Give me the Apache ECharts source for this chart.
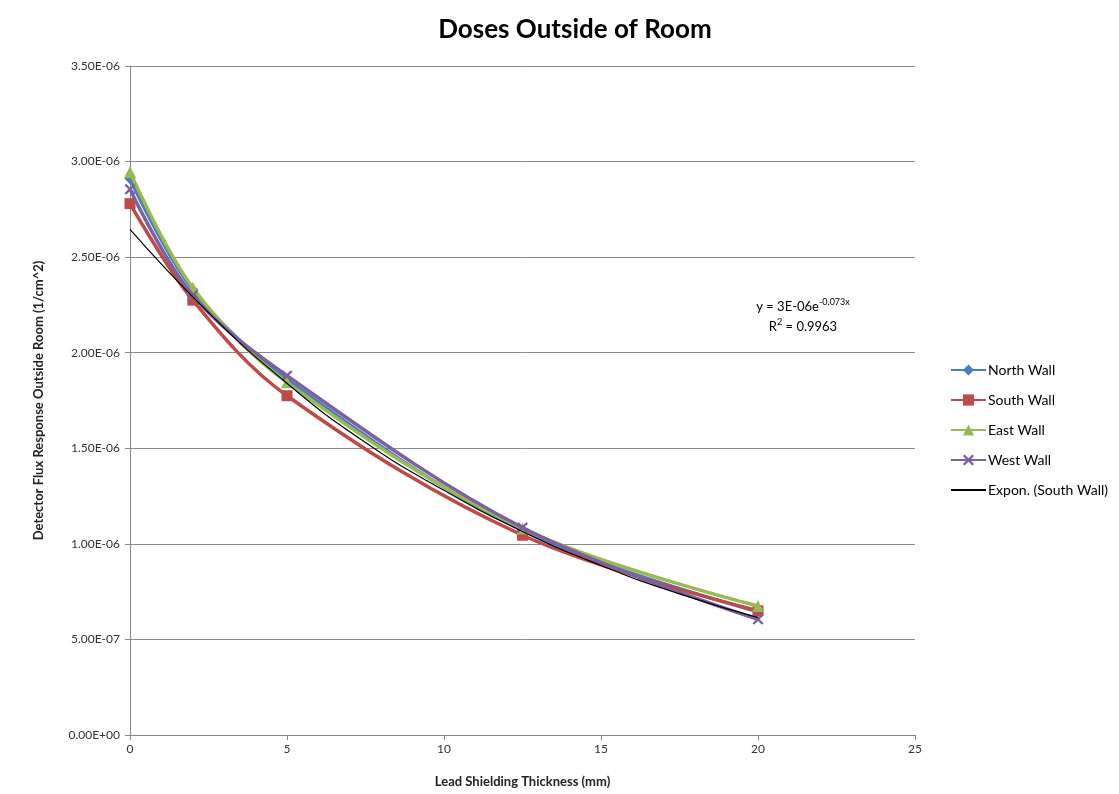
<!DOCTYPE html>
<html>
<head>
<meta charset="utf-8">
<script src="https://cdn.jsdelivr.net/npm/echarts@6/dist/echarts.min.js"></script>
<style>html,body{margin:0;padding:0;background:#fff}#c{width:1119px;height:794px}</style>
</head>
<body>
<div id="c"></div>
<script>
const thickness = [0, 2, 5, 12.5, 20];
const northWall = [2.91e-6, 2.33e-6, 1.86e-6, 1.07e-6, 0.645e-6];
const southWall = [2.78e-6, 2.275e-6, 1.775e-6, 1.045e-6, 0.65e-6];
const eastWall  = [2.945e-6, 2.34e-6, 1.845e-6, 1.08e-6, 0.675e-6];
const westWall  = [2.855e-6, 2.30e-6, 1.88e-6, 1.085e-6, 0.605e-6];
const trendX = [0, 2.5, 5, 7.5, 10, 12.5, 15, 17.5, 20];
const trendY = [2.645e-6, 2.21e-6, 1.84e-6, 1.53e-6, 1.28e-6, 1.065e-6, 0.887e-6, 0.738e-6, 0.614e-6];
const seriesNames = ['North Wall', 'South Wall', 'East Wall', 'West Wall', 'Expon. (South Wall)'];
const colors = ['#4A7EBB', '#BE4B48', '#98B954', '#7D60A0', '#000000'];

function pairs(xs, ys) { return xs.map((x, i) => [x, ys[i]]); }
function sci(v) {
  if (Math.abs(v) < 1e-15) return '0.00E+00';
  let e = Math.floor(Math.log10(Math.abs(v)) + 1e-9);
  let m = v / Math.pow(10, e);
  if (Math.round(m * 100) / 100 >= 10) { m /= 10; e += 1; }
  const sign = e < 0 ? '-' : '+';
  const ae = Math.abs(e);
  return m.toFixed(2) + 'E' + sign + (ae < 10 ? '0' : '') + ae;
}
const xSymbol = 'path://M0,1.5 L1.5,0 L5,3.5 L8.5,0 L10,1.5 L6.5,5 L10,8.5 L8.5,10 L5,6.5 L1.5,10 L0,8.5 L3.5,5 Z';
const font = 'Lato, "Open Sans", sans-serif';

const chart = echarts.init(document.getElementById('c'), null, {renderer: 'canvas'});
const mk = (i, data, symbol, size) => ({
  name: seriesNames[i], type: 'line', data: data, smooth: 0.35,
  symbol: symbol, symbolSize: size, showSymbol: true,
  lineStyle: {color: colors[i], width: 3.5},
  itemStyle: {color: colors[i]},
  z: 2 + i
});
const richStyle = {
  a: {fontSize: 13, fontFamily: font, color: '#000'},
  s: {fontSize: 9, fontFamily: font, color: '#000', padding: [0, 0, 8, 0]}
};
chart.setOption({
  animation: false,
  backgroundColor: '#fff',
  color: colors,
  title: {text: 'Doses Outside of Room', left: 570, top: 12, textAlign: 'center',
    textStyle: {fontSize: 26, fontWeight: 'bold', color: '#000', fontFamily: font}},
  grid: {left: 130, top: 66, width: 785, height: 669},
  legend: {
    orient: 'vertical', left: 945, top: 358, itemGap: 16, itemWidth: 35, itemHeight: 14,
    textStyle: {fontSize: 14, color: '#000', fontFamily: font, padding: [0, 0, 0, -3]},
    data: seriesNames.map((n, i) => i === 4 ? {name: n, itemStyle: {opacity: 0}} : {name: n})
  },
  xAxis: {
    type: 'value', min: 0, max: 25, interval: 5,
    name: 'Lead Shielding Thickness (mm)', nameLocation: 'middle', nameGap: 40,
    nameTextStyle: {fontSize: 13, fontWeight: 'bold', color: '#222', fontFamily: font},
    axisLine: {show: true, lineStyle: {color: '#868686'}},
    axisTick: {show: true, length: 5, lineStyle: {color: '#868686'}},
    axisLabel: {fontSize: 12, color: '#333', fontFamily: font, margin: 8},
    splitLine: {show: false}
  },
  yAxis: {
    type: 'value', min: 0, max: 3.5e-6, interval: 0.5e-6,
    name: 'Detector Flux Response Outside Room (1/cm^2)', nameLocation: 'middle', nameGap: 85,
    nameTextStyle: {fontSize: 13, fontWeight: 'bold', color: '#222', fontFamily: font},
    axisLine: {show: true, lineStyle: {color: '#868686'}},
    axisTick: {show: true, length: 5, lineStyle: {color: '#868686'}},
    axisLabel: {fontSize: 12, color: '#333', fontFamily: font, margin: 10, formatter: sci},
    splitLine: {show: true, lineStyle: {color: '#8a8a8a', width: 1}}
  },
  graphic: [
    {type: 'text', x: 803, y: 298, z: 100,
     style: {text: '{a|y = 3E-06e}{s|-0.073x}', align: 'center', rich: richStyle}},
    {type: 'text', x: 803, y: 318, z: 100,
     style: {text: '{a|R}{s|2}{a| = 0.9963}', align: 'center', rich: richStyle}}
  ],
  series: [
    mk(0, pairs(thickness, northWall), 'diamond', 11),
    mk(1, pairs(thickness, southWall), 'rect', 11),
    mk(2, pairs(thickness, eastWall), 'triangle', 12),
    mk(3, pairs(thickness, westWall), xSymbol, 11),
    {name: seriesNames[4], type: 'line', data: pairs(trendX, trendY), smooth: 0.5,
     symbol: 'none', lineStyle: {color: '#000', width: 1.2}, itemStyle: {color: '#000'}, z: 10}
  ]
});
</script>
</body>
</html>
